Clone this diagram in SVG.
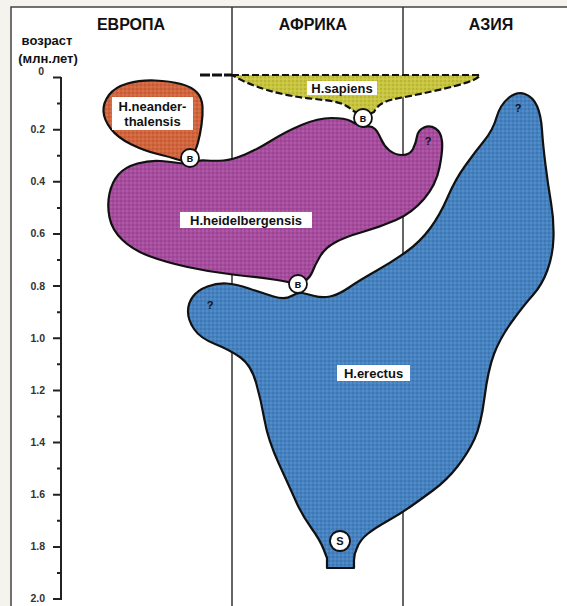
<svg xmlns="http://www.w3.org/2000/svg" width="567" height="606" viewBox="0 0 567 606">
<style>
.blob{stroke:#111;stroke-width:2.2;stroke-linejoin:round}
.t{font-family:"Liberation Sans",Arial,sans-serif;font-weight:bold;fill:#111}
.lbl{font-size:13px;text-anchor:middle}
.hdr{font-size:16px;text-anchor:middle}
.ax{font-size:10.5px;text-anchor:end;fill:#333}
.box{fill:#fff}
.circ{fill:#fff;stroke:#111;stroke-width:1.8}
.cl{font-size:11px;text-anchor:middle}
.q{font-size:11px;text-anchor:middle}
.div{stroke:#333;stroke-width:1.5}
.dk{fill:#000;fill-opacity:0.18}
.lt{fill:#fff;fill-opacity:0.18}
</style>
<defs>
<pattern id="pBlue" width="4" height="4" patternUnits="userSpaceOnUse"><rect width="4" height="4" fill="#4482c2"/><circle class="dk" cx="1" cy="1" r="0.8"/><circle class="lt" cx="3" cy="3" r="0.8"/></pattern>
<pattern id="pMag" width="4" height="4" patternUnits="userSpaceOnUse"><rect width="4" height="4" fill="#a74b9f"/><circle class="dk" cx="1" cy="1" r="0.8"/><circle class="lt" cx="3" cy="3" r="0.8"/></pattern>
<pattern id="pOr" width="4" height="4" patternUnits="userSpaceOnUse"><rect width="4" height="4" fill="#d3643c"/><circle class="dk" cx="1" cy="1" r="0.8"/><circle class="lt" cx="3" cy="3" r="0.8"/></pattern>
<pattern id="pYel" width="4" height="4" patternUnits="userSpaceOnUse"><rect width="4" height="4" fill="#c9c63e"/><circle class="dk" cx="1" cy="1" r="0.8"/><circle class="lt" cx="3" cy="3" r="0.8"/></pattern>
</defs>
<rect x="0" y="0" width="567" height="606" fill="#f4f3ee"/>
<rect x="11" y="7" width="570" height="610" fill="#fff" stroke="#444" stroke-width="1.5"/>

<g id="headers">
<text class="t hdr" x="131" y="30">ЕВРОПА</text>
<text class="t hdr" x="313" y="30">АФРИКА</text>
<text class="t hdr" x="491" y="30">АЗИЯ</text>
<text class="t lbl" x="47" y="45">возраст</text>
<text class="t lbl" x="48" y="63">(млн.лет)</text>
</g>

<g id="dividers">
<line class="div" x1="232" y1="7" x2="232" y2="606"/>
<line class="div" x1="403" y1="7" x2="403" y2="606"/>
</g>

<g id="axis">
<line x1="61" y1="77" x2="61" y2="600" stroke="#222" stroke-width="2"/>
<path stroke="#222" stroke-width="2" fill="none" d="M53,77.5H61M53,129.7H61M53,181.8H61M53,233.9H61M53,286.1H61M53,338.3H61M53,390.4H61M53,442.6H61M53,494.7H61M53,546.9H61M53,599H61M57,103.6H61M57,155.7H61M57,207.9H61M57,260H61M57,312.2H61M57,364.3H61M57,416.5H61M57,468.6H61M57,520.8H61M57,572.9H61"/>
<text class="t ax" x="44" y="75">0</text>
<text class="t ax" x="45" y="133">0.2</text>
<text class="t ax" x="45" y="185">0.4</text>
<text class="t ax" x="45" y="237">0.6</text>
<text class="t ax" x="45" y="289.5">0.8</text>
<text class="t ax" x="45" y="341.5">1.0</text>
<text class="t ax" x="45" y="393.5">1.2</text>
<text class="t ax" x="45" y="446">1.4</text>
<text class="t ax" x="45" y="498">1.6</text>
<text class="t ax" x="45" y="550">1.8</text>
<text class="t ax" x="45" y="602">2.0</text>
</g>

<g id="erectus">
<path class="blob" fill="url(#pBlue)" d="M508.5,98 Q517,91 525,94 Q533,97 537,106 Q541,115 542,130 Q543,145 545.5,165 Q548,185 551,202.5 Q554,220 553.5,237.5 Q553,255 547.5,270 Q542,285 533,295 Q524,305 512,321.5 Q500,338 494,354 Q488,370 484.5,397.5 Q481,425 474.5,439 Q468,453 457.5,466.5 Q447,480 433.5,490 Q420,500 410,507 Q400,514 387.5,521 Q375,528 367.5,534 Q360,540 357,548 Q354,554 354,560 L354,568 L327,568 L327,558 L323.5,549 Q320,540 311,527.5 Q302,515 296,501.5 Q290,488 279,464 Q268,440 264.5,420 Q261,400 256,382.5 Q251,365 240.5,357.5 Q230,350 215,344 Q200,338 194,329 Q188,320 188,311.5 Q188,303 193,296.5 Q198,290 207.5,286.5 Q217,283 226.5,283.5 Q236,284 249,288.5 Q262,293 273.5,296.5 Q285,300 291.5,296 Q298,292 302.5,293 Q307,294 314.5,296 Q322,298 330,296.5 Q338,295 349,287.5 Q360,280 376,271 Q392,262 406,252 Q420,242 430,228.5 Q440,215 447.5,197.5 Q455,180 465,166 Q475,152 484,141 Q493,130 496.5,117.5 Q500,105 508.5,98 Z"/>
<rect class="box" x="337" y="365" width="73" height="16"/>
<text class="t lbl" x="373.5" y="378">H.erectus</text>
<text class="t q" x="518" y="112" fill="#1d3f70">?</text>
<text class="t q" x="210" y="309" fill="#1d3f70">?</text>
</g>

<g id="heidelbergensis">
<path class="blob" fill="url(#pMag)" d="M191.5,162 Q198,160 206.5,160.5 Q215,161 223.5,160.5 Q232,160 245,154.5 Q258,149 271.5,140.5 Q285,132 301.5,125 Q318,118 331.5,118 Q345,118 350.5,121 Q356,124 359.5,125.5 Q363,127 367.5,126.5 Q372,126 375,129 Q378,132 381,139 Q384,146 389.5,150.5 Q395,155 402.5,155 Q410,155 413,149 Q416,143 417,136.5 Q418,130 424,127.5 Q430,125 435.5,128.5 Q441,132 442,141 Q443,150 439.5,167.5 Q436,185 424,199 Q412,213 396,220 Q380,227 362.5,232 Q345,237 335,242.5 Q325,248 320,256.5 Q315,265 312.5,271.5 Q310,278 304,281.5 Q298,285 291.5,283 Q285,281 270,279 Q255,277 232.5,274.5 Q210,272 187.5,267 Q165,262 149,256 Q133,250 122.5,240 Q112,230 109.5,217.5 Q107,205 109.5,193.5 Q112,182 118.5,174.5 Q125,167 137.5,163.5 Q150,160 161,161 Q172,162 178.5,163 Q185,164 191.5,162 Z"/>
<rect class="box" x="180" y="212" width="132" height="16"/>
<text class="t lbl" x="246" y="225">H.heidelbergensis</text>
<text class="t q" x="428" y="145" fill="#5a1f5a">?</text>
</g>

<g id="neanderthalensis">
<path class="blob" fill="url(#pOr)" d="M193,154 Q196,150 198,142.5 Q200,135 201.5,125 Q203,115 202.5,106.5 Q202,98 197,92.5 Q192,87 181,84 Q170,81 155,80.5 Q140,80 127.5,83.5 Q115,87 109,95 Q103,103 103.5,111.5 Q104,120 111,129 Q118,138 131.5,144.5 Q145,151 157.5,154 Q170,157 177.5,159.5 Q185,162 187.5,160 Q190,158 193,154 Z"/>
<rect class="box" x="112" y="97" width="81" height="33"/>
<text class="t lbl" x="152.5" y="111">H.neander-</text>
<text class="t lbl" x="152.5" y="126">thalensis</text>
</g>

<g id="sapiens">
<line x1="200" y1="75" x2="232" y2="75" stroke="#111" stroke-width="3" stroke-dasharray="10 2"/>
<path class="blob" fill="url(#pYel)" stroke-dasharray="7 3" d="M232,75 L480,75 C478,82 440,90 405,97 C385,100 378,104 374,112 L363,117 L352,110 C345,103 335,101 315,99 C280,96 250,86 232,75 Z"/>
<rect class="box" x="307" y="81" width="70" height="14"/>
<text class="t lbl" x="342" y="93">H.sapiens</text>
</g>

<g id="markers">
<circle class="circ" cx="190" cy="158" r="9"/>
<text class="t cl" x="190" y="162">в</text>
<circle class="circ" cx="363" cy="118" r="9"/>
<text class="t cl" x="363" y="122">в</text>
<circle class="circ" cx="298" cy="284" r="9"/>
<text class="t cl" x="298" y="288">в</text>
<circle class="circ" cx="340" cy="541" r="10"/>
<text class="t cl" x="340" y="545">S</text>
</g>
</svg>
